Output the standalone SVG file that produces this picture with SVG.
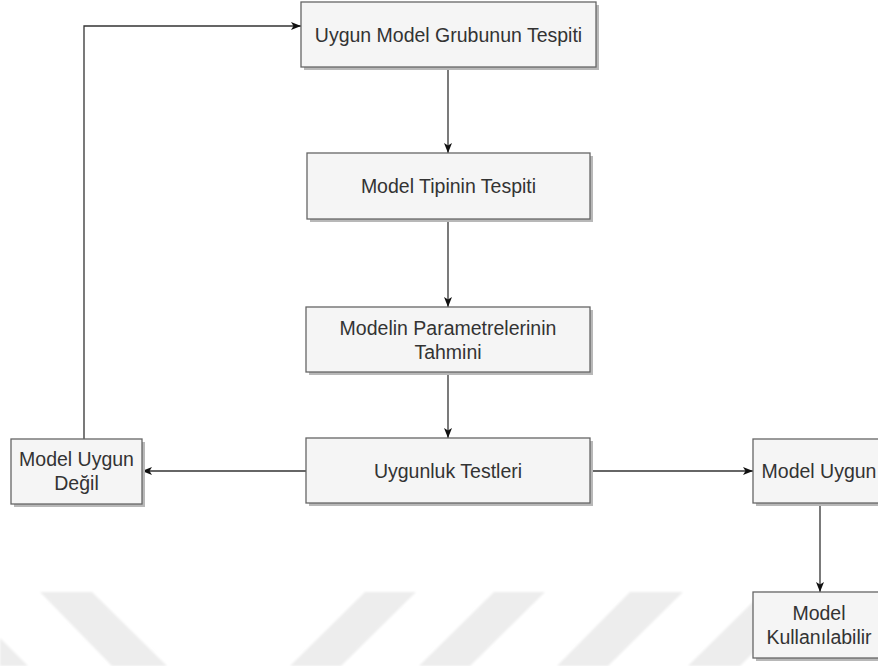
<svg xmlns="http://www.w3.org/2000/svg" width="878" height="666" viewBox="0 0 878 666">
  <defs>
    <style>
      .box { fill: #f5f5f5; stroke: #666666; stroke-width: 1.3; }
      .shadow { fill: #b8b8b8; }
      .lbl { font-family: "Liberation Sans", Arial, sans-serif; font-size: 19.5px; fill: #333333; text-anchor: middle; }
      .edge { fill: none; stroke: #333333; stroke-width: 1.3; }
      .wm { fill: #ededed; }
    </style>
    <marker id="arrow" markerUnits="userSpaceOnUse" markerWidth="11" markerHeight="9" refX="10" refY="4" orient="auto">
      <path d="M0,0 L10,4 L0,8 L2.5,4 Z" fill="#111111"/>
    </marker>
    <filter id="soft" x="-5%" y="-5%" width="110%" height="110%">
      <feGaussianBlur stdDeviation="0.8"/>
    </filter>
  </defs>

  <rect width="878" height="666" fill="#ffffff"/>

  <g id="watermark" filter="url(#soft)">
    <polygon class="wm" points="0,638 28,666 0,666"/>
    <polygon class="wm" points="40,592 92,592 167,666 112,666"/>
    <polygon class="wm" points="365,592 416,592 341,666 290,666"/>
    <polygon class="wm" points="494,592 545,592 470,666 419,666"/>
    <polygon class="wm" points="630,592 683,592 608,666 557,666"/>
    <polygon class="wm" points="763,592 815,592 740,666 688,666"/>
  </g>

  <g id="connectors">
    <path class="edge" d="M448,67 L448,153" marker-end="url(#arrow)"/>
    <path class="edge" d="M448,219 L448,307" marker-end="url(#arrow)"/>
    <path class="edge" d="M448,372 L448,438" marker-end="url(#arrow)"/>
    <path class="edge" d="M306,471 L142,471" marker-end="url(#arrow)"/>
    <path class="edge" d="M590,471 L753,471" marker-end="url(#arrow)"/>
    <path class="edge" d="M84,439 L84,26 L301,26" marker-end="url(#arrow)"/>
    <path class="edge" d="M820,503 L820,592" marker-end="url(#arrow)"/>
  </g>

  <g id="n1">
    <rect class="shadow" x="304" y="5" width="295" height="65"/>
    <rect class="box" x="301" y="2" width="295" height="65"/>
    <text class="lbl" x="448.5" y="41.5">Uygun Model Grubunun Tespiti</text>
  </g>

  <g id="n2">
    <rect class="shadow" x="310" y="156" width="283" height="66"/>
    <rect class="box" x="307" y="153" width="283" height="66"/>
    <text class="lbl" x="448.5" y="193">Model Tipinin Tespiti</text>
  </g>

  <g id="n3">
    <rect class="shadow" x="309" y="310" width="284" height="65"/>
    <rect class="box" x="306" y="307" width="284" height="65"/>
    <text class="lbl" x="448" y="335">Modelin Parametrelerinin</text>
    <text class="lbl" x="448" y="358.5">Tahmini</text>
  </g>

  <g id="n4">
    <rect class="shadow" x="309" y="441" width="284" height="65"/>
    <rect class="box" x="306" y="438" width="284" height="65"/>
    <text class="lbl" x="448" y="477.5">Uygunluk Testleri</text>
  </g>

  <g id="n5">
    <rect class="shadow" x="14" y="442" width="131" height="65"/>
    <rect class="box" x="11" y="439" width="131" height="65"/>
    <text class="lbl" x="76.5" y="466">Model Uygun</text>
    <text class="lbl" x="76.5" y="489.5">Değil</text>
  </g>

  <g id="n6">
    <rect class="shadow" x="756" y="442" width="131" height="64"/>
    <rect class="box" x="753" y="439" width="131" height="64"/>
    <text class="lbl" x="819" y="478">Model Uygun</text>
  </g>

  <g id="n7">
    <rect class="shadow" x="756" y="595" width="131" height="66"/>
    <rect class="box" x="753" y="592" width="131" height="66"/>
    <text class="lbl" x="819" y="620">Model</text>
    <text class="lbl" x="819" y="643.5">Kullanılabilir</text>
  </g>
</svg>
